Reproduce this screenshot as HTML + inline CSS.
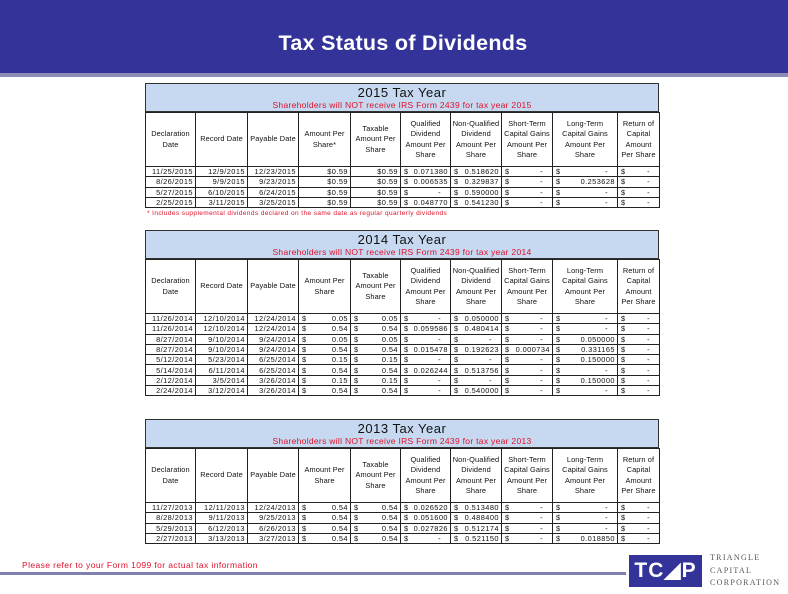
<!DOCTYPE html>
<html><head><meta charset="utf-8"><style>
*{margin:0;padding:0;box-sizing:border-box}
body{width:788px;height:594px;background:#fff;position:relative;overflow:hidden;font-family:"Liberation Sans",Arial,sans-serif}
.hdr{position:absolute;left:0;top:0;width:788px;height:73px;background:#333399}
.hdr2{position:absolute;left:0;top:73px;width:788px;height:4px;background:#8c8cb4}
.title{position:absolute;left:0;width:806px;top:31px;text-align:center;color:#fff;font-size:21.5px;font-weight:bold;letter-spacing:0.3px}
.blk{position:absolute;left:145px;width:514px}
.band{height:29px;background:#c6d9f0;border:1.5px solid #333;border-bottom:1px solid #333;text-align:center;position:relative}
.band .y{font-size:13px;color:#111;position:absolute;left:0;right:0;top:1px;letter-spacing:0.5px}
.band .s{font-size:8.5px;color:#e0102a;position:absolute;left:0;right:0;top:16px;letter-spacing:0.3px}
table{border-collapse:collapse;table-layout:fixed;width:514px;font-size:7.4px;color:#111;letter-spacing:0.45px}
td{border:1px solid #222;padding:0 2px;white-space:nowrap;overflow:hidden}
table{border-left:1.5px solid #333;border-right:1.5px solid #333;border-bottom:1.5px solid #333}
tr.h td{text-align:center;line-height:10.5px;height:54px;white-space:normal;padding:0 1px;letter-spacing:0.1px}
tr.r td{height:10.3px;line-height:9px;text-align:right}
.d{position:relative}
.d b{font-weight:normal;position:absolute;left:3px}
.dash{padding-right:9px!important}
.foot{position:absolute;left:147px;top:210px;font-size:6.5px;color:#e0102a;letter-spacing:0.4px}
.note{position:absolute;left:22px;top:560px;font-size:8.5px;color:#e0102a;letter-spacing:0.4px}
.rule{position:absolute;left:0;top:572px;width:626px;height:3px;background:#8080b0}
.logo{position:absolute;left:629px;top:555px;width:73px;height:32px;background:#333399;color:#fff;font-weight:bold;font-size:21px;text-align:center;line-height:32px;letter-spacing:1px}
.lt{position:absolute;left:710px;font-family:"Liberation Serif",serif;font-size:8px;color:#555;letter-spacing:1.3px}
</style></head><body>
<div class="hdr"></div><div class="hdr2"></div>
<div class="title">Tax Status of Dividends</div>

<div class="blk" style="top:83px">
<div class="band"><div class="y">2015 Tax Year</div><div class="s">Shareholders will NOT receive IRS Form 2439 for tax year 2015</div></div>
<table><colgroup><col style="width:50px"><col style="width:52px"><col style="width:51px"><col style="width:52px"><col style="width:50px"><col style="width:50px"><col style="width:51px"><col style="width:51px"><col style="width:65px"><col style="width:42px"></colgroup>
<tr class="h"><td>Declaration Date</td><td>Record Date</td><td>Payable Date</td><td>Amount Per Share*</td><td>Taxable Amount Per Share</td><td>Qualified Dividend Amount Per Share</td><td>Non-Qualified Dividend Amount Per Share</td><td>Short-Term Capital Gains Amount Per Share</td><td style="padding:0 7px">Long-Term Capital Gains Amount Per Share</td><td>Return of Capital Amount Per Share</td></tr>
<tr class="r"><td>11/25/2015</td><td>12/9/2015</td><td>12/23/2015</td><td>$0.59</td><td>$0.59</td><td class="d"><b>$</b>0.071380</td><td class="d"><b>$</b>0.518620</td><td class="d dash"><b>$</b>-</td><td class="d dash"><b>$</b>-</td><td class="d dash"><b>$</b>-</td></tr>
<tr class="r"><td>8/26/2015</td><td>9/9/2015</td><td>9/23/2015</td><td>$0.59</td><td>$0.59</td><td class="d"><b>$</b>0.006535</td><td class="d"><b>$</b>0.329837</td><td class="d dash"><b>$</b>-</td><td class="d"><b>$</b>0.253628</td><td class="d dash"><b>$</b>-</td></tr>
<tr class="r"><td>5/27/2015</td><td>6/10/2015</td><td>6/24/2015</td><td>$0.59</td><td>$0.59</td><td class="d dash"><b>$</b>-</td><td class="d"><b>$</b>0.590000</td><td class="d dash"><b>$</b>-</td><td class="d dash"><b>$</b>-</td><td class="d dash"><b>$</b>-</td></tr>
<tr class="r"><td>2/25/2015</td><td>3/11/2015</td><td>3/25/2015</td><td>$0.59</td><td>$0.59</td><td class="d"><b>$</b>0.048770</td><td class="d"><b>$</b>0.541230</td><td class="d dash"><b>$</b>-</td><td class="d dash"><b>$</b>-</td><td class="d dash"><b>$</b>-</td></tr>
</table></div>
<div class="foot">* Includes supplemental dividends declared on the same date as regular quarterly dividends</div>

<div class="blk" style="top:230px">
<div class="band"><div class="y">2014 Tax Year</div><div class="s">Shareholders will NOT receive IRS Form 2439 for tax year 2014</div></div>
<table><colgroup><col style="width:50px"><col style="width:52px"><col style="width:51px"><col style="width:52px"><col style="width:50px"><col style="width:50px"><col style="width:51px"><col style="width:51px"><col style="width:65px"><col style="width:42px"></colgroup>
<tr class="h"><td>Declaration Date</td><td>Record Date</td><td>Payable Date</td><td>Amount Per Share</td><td>Taxable Amount Per Share</td><td>Qualified Dividend Amount Per Share</td><td>Non-Qualified Dividend Amount Per Share</td><td>Short-Term Capital Gains Amount Per Share</td><td style="padding:0 7px">Long-Term Capital Gains Amount Per Share</td><td>Return of Capital Amount Per Share</td></tr>
<tr class="r"><td>11/26/2014</td><td>12/10/2014</td><td>12/24/2014</td><td class="d"><b>$</b>0.05</td><td class="d"><b>$</b>0.05</td><td class="d dash"><b>$</b>-</td><td class="d"><b>$</b>0.050000</td><td class="d dash"><b>$</b>-</td><td class="d dash"><b>$</b>-</td><td class="d dash"><b>$</b>-</td></tr>
<tr class="r"><td>11/26/2014</td><td>12/10/2014</td><td>12/24/2014</td><td class="d"><b>$</b>0.54</td><td class="d"><b>$</b>0.54</td><td class="d"><b>$</b>0.059586</td><td class="d"><b>$</b>0.480414</td><td class="d dash"><b>$</b>-</td><td class="d dash"><b>$</b>-</td><td class="d dash"><b>$</b>-</td></tr>
<tr class="r"><td>8/27/2014</td><td>9/10/2014</td><td>9/24/2014</td><td class="d"><b>$</b>0.05</td><td class="d"><b>$</b>0.05</td><td class="d dash"><b>$</b>-</td><td class="d dash"><b>$</b>-</td><td class="d dash"><b>$</b>-</td><td class="d"><b>$</b>0.050000</td><td class="d dash"><b>$</b>-</td></tr>
<tr class="r"><td>8/27/2014</td><td>9/10/2014</td><td>9/24/2014</td><td class="d"><b>$</b>0.54</td><td class="d"><b>$</b>0.54</td><td class="d"><b>$</b>0.015478</td><td class="d"><b>$</b>0.192623</td><td class="d"><b>$</b>0.000734</td><td class="d"><b>$</b>0.331165</td><td class="d dash"><b>$</b>-</td></tr>
<tr class="r"><td>5/12/2014</td><td>5/23/2014</td><td>6/25/2014</td><td class="d"><b>$</b>0.15</td><td class="d"><b>$</b>0.15</td><td class="d dash"><b>$</b>-</td><td class="d dash"><b>$</b>-</td><td class="d dash"><b>$</b>-</td><td class="d"><b>$</b>0.150000</td><td class="d dash"><b>$</b>-</td></tr>
<tr class="r"><td>5/14/2014</td><td>6/11/2014</td><td>6/25/2014</td><td class="d"><b>$</b>0.54</td><td class="d"><b>$</b>0.54</td><td class="d"><b>$</b>0.026244</td><td class="d"><b>$</b>0.513756</td><td class="d dash"><b>$</b>-</td><td class="d dash"><b>$</b>-</td><td class="d dash"><b>$</b>-</td></tr>
<tr class="r"><td>2/12/2014</td><td>3/5/2014</td><td>3/26/2014</td><td class="d"><b>$</b>0.15</td><td class="d"><b>$</b>0.15</td><td class="d dash"><b>$</b>-</td><td class="d dash"><b>$</b>-</td><td class="d dash"><b>$</b>-</td><td class="d"><b>$</b>0.150000</td><td class="d dash"><b>$</b>-</td></tr>
<tr class="r"><td>2/24/2014</td><td>3/12/2014</td><td>3/26/2014</td><td class="d"><b>$</b>0.54</td><td class="d"><b>$</b>0.54</td><td class="d dash"><b>$</b>-</td><td class="d"><b>$</b>0.540000</td><td class="d dash"><b>$</b>-</td><td class="d dash"><b>$</b>-</td><td class="d dash"><b>$</b>-</td></tr>
</table></div>

<div class="blk" style="top:419px">
<div class="band"><div class="y">2013 Tax Year</div><div class="s">Shareholders will NOT receive IRS Form 2439 for tax year 2013</div></div>
<table><colgroup><col style="width:50px"><col style="width:52px"><col style="width:51px"><col style="width:52px"><col style="width:50px"><col style="width:50px"><col style="width:51px"><col style="width:51px"><col style="width:65px"><col style="width:42px"></colgroup>
<tr class="h"><td>Declaration Date</td><td>Record Date</td><td>Payable Date</td><td>Amount Per Share</td><td>Taxable Amount Per Share</td><td>Qualified Dividend Amount Per Share</td><td>Non-Qualified Dividend Amount Per Share</td><td>Short-Term Capital Gains Amount Per Share</td><td style="padding:0 7px">Long-Term Capital Gains Amount Per Share</td><td>Return of Capital Amount Per Share</td></tr>
<tr class="r"><td>11/27/2013</td><td>12/11/2013</td><td>12/24/2013</td><td class="d"><b>$</b>0.54</td><td class="d"><b>$</b>0.54</td><td class="d"><b>$</b>0.026520</td><td class="d"><b>$</b>0.513480</td><td class="d dash"><b>$</b>-</td><td class="d dash"><b>$</b>-</td><td class="d dash"><b>$</b>-</td></tr>
<tr class="r"><td>8/28/2013</td><td>9/11/2013</td><td>9/25/2013</td><td class="d"><b>$</b>0.54</td><td class="d"><b>$</b>0.54</td><td class="d"><b>$</b>0.051600</td><td class="d"><b>$</b>0.488400</td><td class="d dash"><b>$</b>-</td><td class="d dash"><b>$</b>-</td><td class="d dash"><b>$</b>-</td></tr>
<tr class="r"><td>5/29/2013</td><td>6/12/2013</td><td>6/26/2013</td><td class="d"><b>$</b>0.54</td><td class="d"><b>$</b>0.54</td><td class="d"><b>$</b>0.027826</td><td class="d"><b>$</b>0.512174</td><td class="d dash"><b>$</b>-</td><td class="d dash"><b>$</b>-</td><td class="d dash"><b>$</b>-</td></tr>
<tr class="r"><td>2/27/2013</td><td>3/13/2013</td><td>3/27/2013</td><td class="d"><b>$</b>0.54</td><td class="d"><b>$</b>0.54</td><td class="d dash"><b>$</b>-</td><td class="d"><b>$</b>0.521150</td><td class="d dash"><b>$</b>-</td><td class="d"><b>$</b>0.018850</td><td class="d dash"><b>$</b>-</td></tr>
</table></div>

<div class="note">Please refer to your Form 1099 for actual tax information</div>
<div class="rule"></div>
<div class="logo">TC◢P</div>
<div class="lt" style="top:553px">TRIANGLE</div>
<div class="lt" style="top:566px">CAPITAL</div>
<div class="lt" style="top:578px">CORPORATION</div>
</body></html>
